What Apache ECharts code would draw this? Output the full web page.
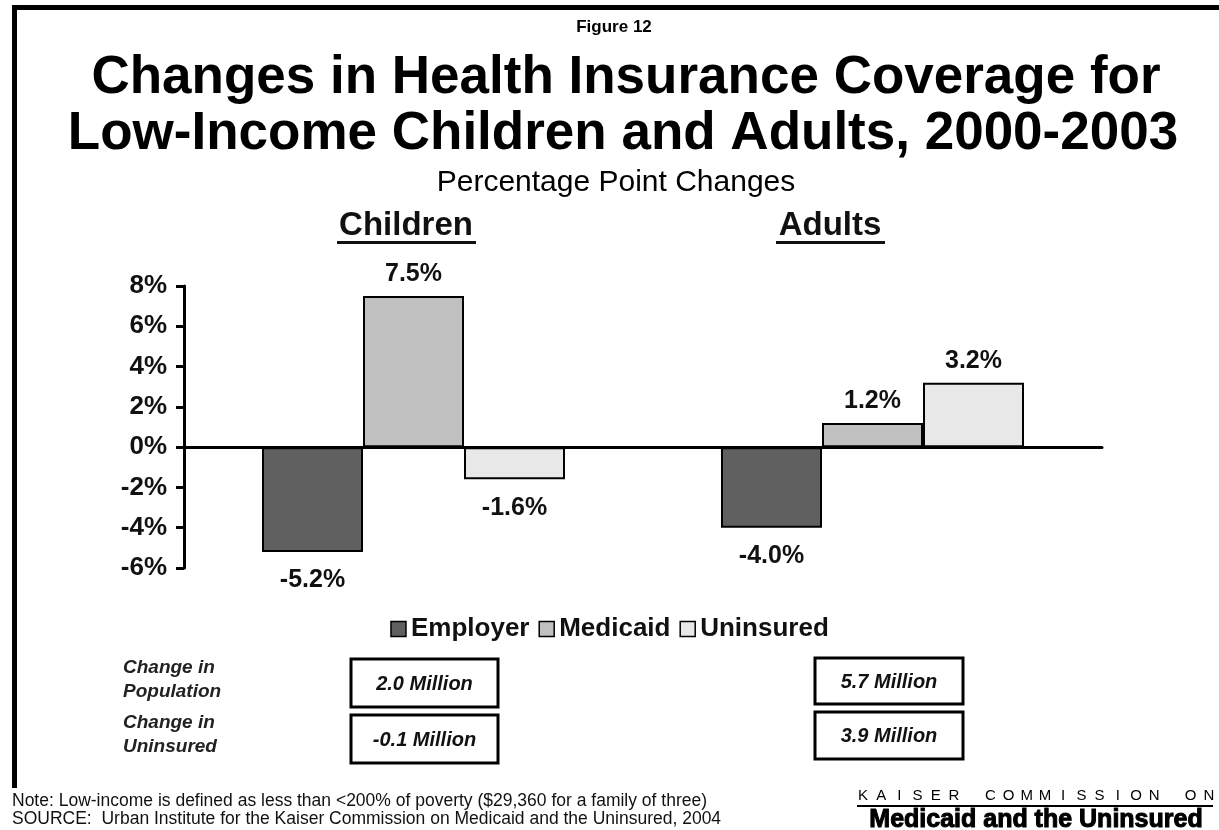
<!DOCTYPE html>
<html><head><meta charset="utf-8">
<script src="https://cdn.jsdelivr.net/npm/echarts@6/dist/echarts.min.js"></script>
<style>html,body{margin:0;padding:0;background:#fff}#c{width:1219px;height:830px}</style>
</head><body><div id="c"></div>
<script>
// ---- data ----
const categories = ['Children', 'Adults'];
const seriesNames = ['Employer', 'Medicaid', 'Uninsured'];
const employer = [-5.2, -4.0];
const medicaid = [7.5, 1.2];
const uninsured = [-1.6, 3.2];
const yMin = -6, yMax = 8, yInterval = 2;
const rowLabels = ['Change in\nPopulation', 'Change in\nUninsured'];
const popChange = ['2.0 Million', '5.7 Million'];
const uninsChange = ['-0.1 Million', '3.9 Million'];
const figureLabel = 'Figure 12';
const titleLines = ['Changes in Health Insurance Coverage for', 'Low-Income Children and Adults, 2000-2003'];
const subtitle = 'Percentage Point Changes';
const noteLines = ['Note: Low-income is defined as less than <200% of poverty ($29,360 for a family of three)',
  'SOURCE:  Urban Institute for the Kaiser Commission on Medicaid and the Uninsured, 2004'];
const logoTop = 'KAISER COMMISSION ON';
const logoBottom = 'Medicaid and the Uninsured';

// ---- style ----
const FONT = '"Liberation Sans", Arial, Helvetica, sans-serif';
const colors = ['#606060', '#c0c0c0', '#e8e8e8'];
const seriesValues = [employer, medicaid, uninsured];

const chart = echarts.init(document.getElementById('c'), null, {renderer: 'canvas'});

function makeData(vals) {
  return vals.map(v => ({
    value: v,
    label: v < 0 ? {position: 'bottom', distance: 16} : {position: 'top', distance: 9}
  }));
}

const series = seriesNames.map((name, i) => ({
  name: name,
  type: 'bar',
  data: makeData(seriesValues[i]),
  barWidth: 101,
  barGap: '0%',
  itemStyle: {color: colors[i], borderColor: '#000', borderWidth: 2},
  label: {
    show: true,
    formatter: p => p.value.toFixed(1) + '%',
    fontFamily: FONT, fontWeight: 'bold', fontSize: 25, color: '#111'
  },
  emphasis: {disabled: true},
  animation: false
}));

const graphic = [];
// frame
graphic.push({type: 'rect', shape: {x: 12, y: 5, width: 5, height: 783}, style: {fill: '#000'}});
graphic.push({type: 'rect', shape: {x: 12, y: 5, width: 1207, height: 5}, style: {fill: '#000'}});
// figure label & titles
graphic.push({type: 'text', x: 614, y: 27, style: {text: figureLabel, font: 'bold 17px ' + FONT, fill: '#000', align: 'center', verticalAlign: 'middle'}});
graphic.push({type: 'text', x: 626, y: 78, style: {text: titleLines[0], font: 'bold 53px ' + FONT, fill: '#000', align: 'center', verticalAlign: 'middle'}});
graphic.push({type: 'text', x: 623, y: 134, style: {text: titleLines[1], font: 'bold 53px ' + FONT, fill: '#000', align: 'center', verticalAlign: 'middle'}});
graphic.push({type: 'text', x: 616, y: 183, style: {text: subtitle, font: '30px ' + FONT, fill: '#000', align: 'center', verticalAlign: 'middle'}});
// group headers
const headerX = [406, 830];
categories.forEach((c, i) => {
  graphic.push({type: 'text', x: headerX[i], y: 226, style: {text: c, font: 'bold 33px ' + FONT, fill: '#111', align: 'center', verticalAlign: 'middle'}});
});
// underlines
graphic.push({type: 'rect', shape: {x: 337, y: 241, width: 139, height: 3}, style: {fill: '#111'}});
graphic.push({type: 'rect', shape: {x: 776, y: 241, width: 109, height: 3}, style: {fill: '#111'}});
// row labels
const rowY = [680, 735];
rowLabels.forEach((t, i) => {
  graphic.push({type: 'text', x: 123, y: rowY[i], style: {text: t, font: 'italic bold 19px ' + FONT, fill: '#222', align: 'left', verticalAlign: 'middle', lineHeight: 24}});
});
// boxes
const boxes = [
  {x: 351, y: 659, w: 147, h: 48, t: popChange[0]},
  {x: 351, y: 715, w: 147, h: 48, t: uninsChange[0]},
  {x: 815, y: 658, w: 148, h: 46, t: popChange[1]},
  {x: 815, y: 712, w: 148, h: 47, t: uninsChange[1]}
];
boxes.forEach(b => {
  graphic.push({type: 'rect', shape: {x: b.x, y: b.y, width: b.w, height: b.h}, style: {fill: '#fff', stroke: '#000', lineWidth: 3}});
  graphic.push({type: 'text', x: b.x + b.w / 2, y: b.y + b.h / 2 + 1, style: {text: b.t, font: 'italic bold 20px ' + FONT, fill: '#111', align: 'center', verticalAlign: 'middle'}});
});
// footer notes
graphic.push({type: 'text', x: 12, y: 801, style: {text: noteLines[0], font: '17.5px ' + FONT, fill: '#111', align: 'left', verticalAlign: 'middle'}});
graphic.push({type: 'text', x: 12, y: 819, style: {text: noteLines[1], font: '17.5px ' + FONT, fill: '#111', align: 'left', verticalAlign: 'middle'}});
// logo (evenly spaced letters)
const chars = logoTop.split('');
const step = 18.2;
chars.forEach((ch, i) => {
  if (ch === ' ') return;
  graphic.push({type: 'text', x: 863 + i * step, y: 796, style: {text: ch, font: '15px ' + FONT, fill: '#000', align: 'center', verticalAlign: 'middle'}});
});
graphic.push({type: 'rect', shape: {x: 857, y: 805, width: 356, height: 2}, style: {fill: '#000'}});
graphic.push({type: 'text', x: 1036, y: 820, style: {text: logoBottom, font: 'bold 25px ' + FONT, fill: '#000', align: 'center', verticalAlign: 'middle', stroke: '#000', lineWidth: 1}});

const option = {
  animation: false,
  backgroundColor: '#fff',
  grid: {left: 184, right: 117, top: 286, bottom: 262},
  legend: {
    data: seriesNames,
    top: 611, left: 'center',
    itemWidth: 15, itemHeight: 15, itemGap: 9,
    icon: 'rect',
    itemStyle: {borderColor: '#000', borderWidth: 1.5},
    textStyle: {fontFamily: FONT, fontWeight: 'bold', fontSize: 26, color: '#111'},
    selectedMode: false
  },
  xAxis: {
    type: 'category', data: categories,
    axisLine: {onZero: true, lineStyle: {color: '#000', width: 3}},
    axisTick: {show: false},
    axisLabel: {show: false},
    splitLine: {show: false}
  },
  yAxis: {
    type: 'value', min: yMin, max: yMax, interval: yInterval,
    axisLine: {show: true, lineStyle: {color: '#000', width: 3}},
    axisTick: {show: true, length: 8, lineStyle: {color: '#000', width: 3}},
    axisLabel: {formatter: '{value}%', fontFamily: FONT, fontWeight: 'bold', fontSize: 26, color: '#111', margin: 17},
    splitLine: {show: false}
  },
  series: series,
  graphic: graphic
};
chart.setOption(option);
</script>
</body></html>
